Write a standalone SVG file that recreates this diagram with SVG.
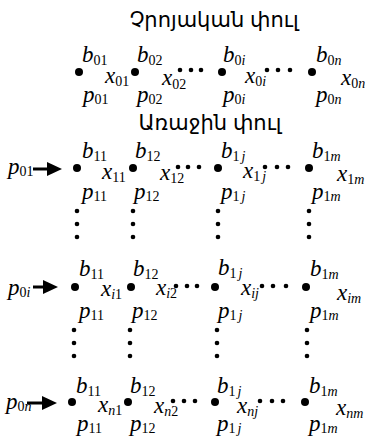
<svg xmlns="http://www.w3.org/2000/svg" width="365" height="440" viewBox="0 0 365 440">
<style>
.t{font-family:"Liberation Sans","DejaVu Sans","Noto Sans",sans-serif;font-size:21px;fill:#000}
.m{font-family:"Liberation Serif","Times New Roman",serif;font-style:italic;font-size:23px;fill:#000}
.s{font-size:14px;font-style:normal}
.si{font-size:14px;font-style:italic}
.big{fill:#000}
.sm{fill:#000}
.ar{stroke:#000;stroke-width:3;fill:none}
</style>
<rect width="365" height="440" fill="#fff"/>
<text class="t" x="214" y="27" text-anchor="middle">Չրոյական փուլ</text>
<text class="t" x="210" y="130" text-anchor="middle">Առաջին փուլ</text>

<!-- Row 0 -->
<g id="n01"><circle class="big" cx="79" cy="72" r="4"/><text class="m" x="82" y="62">b<tspan class="s" dy="3">01</tspan></text><text class="m" x="105" y="83">x<tspan class="s" dy="3">01</tspan></text><text class="m" x="83" y="102">p<tspan class="s" dy="2">01</tspan></text></g>
<g id="n02"><circle class="big" cx="135" cy="72" r="4"/><text class="m" x="137" y="62">b<tspan class="s" dy="3">02</tspan></text><text class="m" x="162" y="85">x<tspan class="s" dy="4">02</tspan></text><text class="m" x="137" y="102">p<tspan class="s" dy="2">02</tspan></text></g>
<g id="n0i"><circle class="big" cx="222" cy="72" r="4"/><text class="m" x="223" y="62">b<tspan class="s" dy="3">0</tspan><tspan class="si">i</tspan></text><text class="m" x="245" y="83">x<tspan class="s" dy="3">0</tspan><tspan class="si">i</tspan></text><text class="m" x="223" y="102">p<tspan class="s" dy="2">0</tspan><tspan class="si">i</tspan></text></g>
<g id="n0n"><circle class="big" cx="312" cy="72" r="4"/><text class="m" x="316" y="62">b<tspan class="s" dy="3">0</tspan><tspan class="si">n</tspan></text><text class="m" x="341" y="85">x<tspan class="s" dy="3">0</tspan><tspan class="si">n</tspan></text><text class="m" x="316" y="102">p<tspan class="s" dy="2">0</tspan><tspan class="si">n</tspan></text></g>

<!-- Row 1 -->
<g id="n11"><circle class="big" cx="77" cy="168" r="4"/><text class="m" x="82" y="158">b<tspan class="s" dy="3">11</tspan></text><text class="m" x="102" y="179">x<tspan class="s" dy="3">11</tspan></text><text class="m" x="82" y="199">p<tspan class="s" dy="2">11</tspan></text></g>
<g id="n12"><circle class="big" cx="133" cy="168" r="4"/><text class="m" x="135" y="158">b<tspan class="s" dy="3">12</tspan></text><text class="m" x="160" y="180">x<tspan class="s" dy="3">12</tspan></text><text class="m" x="134" y="199">p<tspan class="s" dy="2">12</tspan></text></g>
<g id="n1j"><circle class="big" cx="218" cy="168" r="4"/><text class="m" x="221" y="158">b<tspan class="s" dy="3">1</tspan><tspan class="si" dx="2">j</tspan></text><text class="m" x="243" y="178">x<tspan class="s" dy="3">1</tspan><tspan class="si" dx="2">j</tspan></text><text class="m" x="221" y="199">p<tspan class="s" dy="2">1</tspan><tspan class="si" dx="2">j</tspan></text></g>
<g id="n1m"><circle class="big" cx="309" cy="168" r="4"/><text class="m" x="312" y="158">b<tspan class="s" dy="3">1</tspan><tspan class="si">m</tspan></text><text class="m" x="337" y="181">x<tspan class="s" dy="3">1</tspan><tspan class="si">m</tspan></text><text class="m" x="312" y="199">p<tspan class="s" dy="2">1</tspan><tspan class="si">m</tspan></text></g>

<!-- Row i -->
<g id="ni1"><circle class="big" cx="75" cy="287" r="4"/><text class="m" x="79" y="276">b<tspan class="s" dy="3">11</tspan></text><text class="m" x="101" y="296">x<tspan class="si" dy="3">i</tspan><tspan class="s">1</tspan></text><text class="m" x="79" y="318">p<tspan class="s" dy="2">11</tspan></text></g>
<g id="ni2"><circle class="big" cx="131" cy="287" r="4"/><text class="m" x="133" y="276">b<tspan class="s" dy="3">12</tspan></text><text class="m" x="156" y="295">x<tspan class="si" dy="3">i</tspan><tspan class="s">2</tspan></text><text class="m" x="132" y="318">p<tspan class="s" dy="2">12</tspan></text></g>
<g id="nij"><circle class="big" cx="215" cy="287" r="4"/><text class="m" x="218" y="275">b<tspan class="s" dy="3">1</tspan><tspan class="si" dx="2">j</tspan></text><text class="m" x="241" y="295">x<tspan class="si" dy="3">ij</tspan></text><text class="m" x="218" y="318">p<tspan class="s" dy="2">1</tspan><tspan class="si" dx="2">j</tspan></text></g>
<g id="nim"><circle class="big" cx="306" cy="287" r="4"/><text class="m" x="310" y="276">b<tspan class="s" dy="3">1</tspan><tspan class="si">m</tspan></text><text class="m" x="337" y="300">x<tspan class="si" dy="3">im</tspan></text><text class="m" x="310" y="318">p<tspan class="s" dy="2">1</tspan><tspan class="si">m</tspan></text></g>

<!-- Row n -->
<g id="nn1"><circle class="big" cx="72" cy="402" r="4"/><text class="m" x="76" y="393">b<tspan class="s" dy="3">11</tspan></text><text class="m" x="98" y="412">x<tspan class="si" dy="3">n</tspan><tspan class="s">1</tspan></text><text class="m" x="77" y="431">p<tspan class="s" dy="2">11</tspan></text></g>
<g id="nn2"><circle class="big" cx="128" cy="402" r="4"/><text class="m" x="130" y="393">b<tspan class="s" dy="3">12</tspan></text><text class="m" x="154" y="413">x<tspan class="si" dy="3">n</tspan><tspan class="s">2</tspan></text><text class="m" x="130" y="431">p<tspan class="s" dy="2">12</tspan></text></g>
<g id="nnj"><circle class="big" cx="215" cy="402" r="4"/><text class="m" x="217" y="393">b<tspan class="s" dy="3">1</tspan><tspan class="si" dx="2">j</tspan></text><text class="m" x="237" y="413">x<tspan class="si" dy="3">nj</tspan></text><text class="m" x="217" y="431">p<tspan class="s" dy="2">1</tspan><tspan class="si" dx="2">j</tspan></text></g>
<g id="nnm"><circle class="big" cx="305" cy="402" r="4"/><text class="m" x="309" y="393">b<tspan class="s" dy="3">1</tspan><tspan class="si">m</tspan></text><text class="m" x="336" y="415">x<tspan class="si" dy="3">nm</tspan></text><text class="m" x="309" y="431">p<tspan class="s" dy="2">1</tspan><tspan class="si">m</tspan></text></g>

<!-- ellipsis dots -->
<g id="ellipses" class="sm">
<circle cx="180" cy="70" r="2.3"/><circle cx="191" cy="70" r="2.3"/><circle cx="201" cy="70" r="2.3"/>
<circle cx="267" cy="70" r="2.3"/><circle cx="278" cy="70" r="2.3"/><circle cx="290" cy="70" r="2.3"/>
<circle cx="178" cy="167" r="2.3"/><circle cx="188" cy="167" r="2.3"/><circle cx="199" cy="167" r="2.3"/>
<circle cx="265" cy="167" r="2.3"/><circle cx="277" cy="167" r="2.3"/><circle cx="288" cy="167" r="2.3"/>
<circle cx="176" cy="286" r="2.3"/><circle cx="187" cy="286" r="2.3"/><circle cx="197" cy="286" r="2.3"/>
<circle cx="262" cy="286" r="2.3"/><circle cx="273" cy="286" r="2.3"/><circle cx="286" cy="286" r="2.3"/>
<circle cx="173" cy="401" r="2.3"/><circle cx="184" cy="401" r="2.3"/><circle cx="195" cy="401" r="2.3"/>
<circle cx="260" cy="401" r="2.3"/><circle cx="272" cy="401" r="2.3"/><circle cx="283" cy="401" r="2.3"/>
<circle cx="77" cy="211" r="2.3"/><circle cx="77" cy="224" r="2.3"/><circle cx="77" cy="237" r="2.3"/>
<circle cx="133" cy="211" r="2.3"/><circle cx="133" cy="224" r="2.3"/><circle cx="133" cy="237" r="2.3"/>
<circle cx="218" cy="211" r="2.3"/><circle cx="218" cy="224" r="2.3"/><circle cx="218" cy="237" r="2.3"/>
<circle cx="309" cy="211" r="2.3"/><circle cx="309" cy="224" r="2.3"/><circle cx="309" cy="237" r="2.3"/>
<circle cx="74" cy="330" r="2.3"/><circle cx="74" cy="343" r="2.3"/><circle cx="74" cy="356" r="2.3"/>
<circle cx="130" cy="330" r="2.3"/><circle cx="130" cy="343" r="2.3"/><circle cx="130" cy="356" r="2.3"/>
<circle cx="217" cy="330" r="2.3"/><circle cx="217" cy="343" r="2.3"/><circle cx="217" cy="356" r="2.3"/>
<circle cx="307" cy="330" r="2.3"/><circle cx="307" cy="343" r="2.3"/><circle cx="307" cy="356" r="2.3"/>
</g>

<!-- inputs -->
<g id="in1"><text class="m" x="8" y="174">p<tspan class="s" dy="2">01</tspan></text></g>
<g id="ini"><text class="m" x="8" y="295">p<tspan class="s" dy="2">0</tspan><tspan class="si">i</tspan></text></g>
<g id="inn"><text class="m" x="6" y="409">p<tspan class="s" dy="2">0</tspan><tspan class="si">n</tspan></text></g>

<g id="connectors">
<line class="ar" x1="33" y1="169" x2="49" y2="169"/><path d="M47,162 L62,169 L47,176 Z"/>
<line class="ar" x1="33" y1="287" x2="45" y2="287"/><path d="M43,280 L58,287 L43,294 Z"/>
<line class="ar" x1="27" y1="403" x2="44" y2="403"/><path d="M42,396 L57,403 L42,410 Z"/>
</g>
</svg>
